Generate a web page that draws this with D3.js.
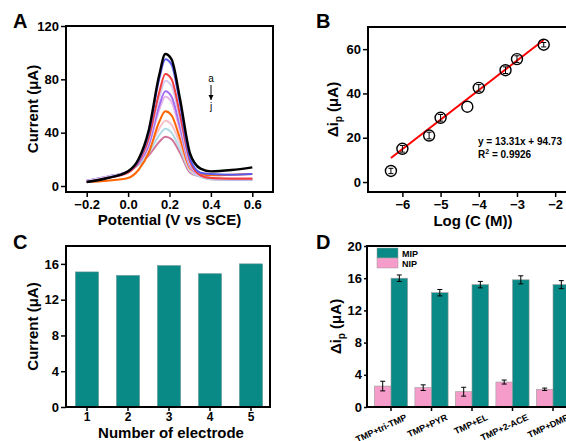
<!DOCTYPE html>
<html>
<head>
<meta charset="utf-8">
<script src="https://cdn.jsdelivr.net/npm/d3@7"></script>
<style>
  html, body { margin: 0; padding: 0; background: #fff; overflow: hidden; }
  svg { display: block; font-family: "Liberation Sans", Arial, sans-serif; }
</style>
</head>
<body>
<div id="vis"></div>
<script>
// ---------- data ----------
// panel A: DPV curves a..j
const potentials = [-0.2, -0.1, 0, 0.05, 0.1, 0.15, 0.18, 0.21, 0.25, 0.3, 0.35, 0.4, 0.5, 0.6];
const curveNames = ["a", "b", "c", "d", "e", "f", "g", "h", "i", "j"];
const curveColors = ["#000000", "#5a5af0", "#f23b3b", "#d3cbf2", "#a56ef2", "#e6b4e8", "#ff6600", "#f7c3cb", "#b0dbe8", "#d2739c"];
const curveA = [3, 6, 11, 20, 42, 83, 99, 95, 66, 24, 13, 11, 12, 14];
const curveB = [3, 6, 11, 19, 40, 80, 95, 91, 62, 20, 10, 9, 8.5, 9];
const curveC = [3, 6, 10, 18, 36, 70, 84, 80, 54, 18, 8, 6, 5.5, 5.5];
const curveD = [4, 7, 11, 18, 34, 66, 79, 75, 50, 16, 8, 6, 5, 5];
const curveE = [4, 7, 11, 17, 31, 60, 71, 67, 45, 15, 8, 6, 5, 5];
const curveF = [4, 7, 11, 17, 30, 57, 67, 63, 42, 14, 8, 6, 5, 5];
const curveG = [3, 4, 6, 12, 25, 48, 56, 53, 36, 13, 9, 8, 8.5, 9];
const curveH = [4, 7, 11, 17, 27, 43, 49, 46, 32, 12, 8, 6, 6, 6];
const curveI = [4, 7, 11, 16, 25, 38, 43, 40, 28, 11, 7, 5, 4.5, 4.5];
const curveJ = [4, 7, 11, 16, 23, 33, 37, 35, 25, 10, 7, 5, 4.5, 4.5];
const curves = [curveA, curveB, curveC, curveD, curveE, curveF, curveG, curveH, curveI, curveJ];

// panel B: calibration
const logConc = [-6.3, -6, -5.3, -5, -4.3, -4, -3.3, -3, -2.3];
const deltaIp = [5, 15, 21, 29, 34, 42.5, 50.5, 55.5, 62];
const deltaIpErr = [1.2, 1.5, 1.5, 1.5, 0, 1.5, 1.5, 1.5, 1];
const fitSlope = 13.31, fitIntercept = 94.73;

// panel C: reproducibility
const electrodes = ["1", "2", "3", "4", "5"];
const electrodeCurrent = [15.1, 14.7, 15.8, 14.9, 16.0];

// panel D: selectivity
const interferents = ["TMP+tri-TMP", "TMP+PYR", "TMP+EL", "TMP+2-ACE", "TMP+DMP"];
const nipValues = [2.6, 2.4, 1.9, 3.1, 2.2];
const nipErr = [0.6, 0.35, 0.55, 0.25, 0.15];
const mipValues = [16.0, 14.2, 15.2, 15.8, 15.2];
const mipErr = [0.4, 0.4, 0.4, 0.5, 0.5];

// ---------- setup ----------
const W = 566, H = 441;
const svg = d3.select("#vis").append("svg").attr("width", W).attr("height", H);

const teal = "#0a8a87", pink = "#f59ccb";
const tickFont = 13, titleFont = 15;

function frame(g, x0, y0, x1, y1) {
  g.append("rect")
    .attr("x", x0).attr("y", y0)
    .attr("width", x1 - x0).attr("height", y1 - y0)
    .attr("fill", "none").attr("stroke", "#000").attr("stroke-width", 2);
}

function styleAxis(g) {
  g.select(".domain").remove();
  g.selectAll(".tick line").attr("stroke", "#000").attr("stroke-width", 1.5);
  g.selectAll(".tick text")
    .attr("fill", "#000")
    .attr("font-size", tickFont)
    .attr("font-weight", "bold");
}

function panelLetter(t, x, y) {
  svg.append("text").attr("x", x).attr("y", y)
    .attr("font-size", 20).attr("font-weight", "bold").text(t);
}

// ========== Panel A ==========
{
  const x0 = 66, x1 = 273, y0 = 26, y1 = 192;
  const x = d3.scaleLinear().domain([-0.3, 0.7]).range([x0, x1]);
  const y = d3.scaleLinear().domain([-4.5, 120]).range([y1, y0]);
  const g = svg.append("g");

  const line = d3.line()
    .x((d, i) => x(potentials[i]))
    .y(d => y(d))
    .curve(d3.curveMonotoneX);

  // draw j first so black "a" sits on top
  curves.map((c, i) => ({ c, i })).reverse().forEach(({ c, i }) => {
    g.append("path")
      .attr("d", line(c))
      .attr("fill", "none")
      .attr("stroke", curveColors[i])
      .attr("stroke-width", i === 0 ? 2.4 : 2);
  });

  g.append("g").attr("transform", `translate(0,${y1})`)
    .call(d3.axisBottom(x).tickValues([-0.2, 0, 0.2, 0.4, 0.6]).tickFormat(d3.format(".1f")).tickSize(5).tickPadding(3))
    .call(styleAxis);
  g.append("g").attr("transform", `translate(${x0},0)`)
    .call(d3.axisLeft(y).tickValues([0, 40, 80, 120]).tickSize(5).tickPadding(2))
    .call(styleAxis);
  frame(g, x0, y0, x1, y1);

  // a -> j marker
  g.append("text").attr("x", 211).attr("y", 82).attr("text-anchor", "middle")
    .attr("font-size", 10).attr("fill", "#000").text(curveNames[0]);
  g.append("line").attr("x1", 211).attr("x2", 211).attr("y1", 85).attr("y2", 100)
    .attr("stroke", "#000").attr("stroke-width", 1);
  g.append("path").attr("d", "M208.5,95 L211,100 L213.5,95 Z").attr("fill", "#000");
  g.append("text").attr("x", 211).attr("y", 110).attr("text-anchor", "middle")
    .attr("font-size", 10).attr("fill", "#000").text(curveNames[9]);

  g.append("text")
    .attr("transform", `translate(38,${(y0 + y1) / 2}) rotate(-90)`)
    .attr("text-anchor", "middle")
    .attr("font-size", titleFont).attr("font-weight", "bold")
    .text("Current (μA)");
  g.append("text").attr("x", (x0 + x1) / 2).attr("y", 225)
    .attr("text-anchor", "middle")
    .attr("font-size", titleFont).attr("font-weight", "bold")
    .text("Potential (V vs SCE)");
  panelLetter("A", 13, 28);
}

// ========== Panel B ==========
{
  const x0 = 368, x1 = 620, y0 = 27, y1 = 192;
  const x = d3.scaleLinear().domain([-6.9, -6.9 + (x1 - x0) / 38.2]).range([x0, x1]);
  const y = d3.scaleLinear().domain([-4.5, 70]).range([y1, y0]);
  const g = svg.append("g");

  const fx = [logConc[0], logConc[logConc.length - 1]];
  g.append("line")
    .attr("x1", x(fx[0])).attr("y1", y(fitSlope * fx[0] + fitIntercept))
    .attr("x2", x(fx[1])).attr("y2", y(fitSlope * fx[1] + fitIntercept))
    .attr("stroke", "#ff0000").attr("stroke-width", 2);

  const pts = logConc.map((v, i) => ({ x: v, y: deltaIp[i], e: deltaIpErr[i] }));
  g.selectAll(".err").data(pts.filter(d => d.e > 0)).join("path")
    .attr("d", d => {
      const cx = x(d.x), t = y(d.y + d.e), b = y(d.y - d.e);
      return `M${cx},${t}V${b}M${cx - 2.5},${t}H${cx + 2.5}M${cx - 2.5},${b}H${cx + 2.5}`;
    })
    .attr("stroke", "#000").attr("stroke-width", 1).attr("fill", "none");
  g.selectAll(".pt").data(pts).join("circle")
    .attr("cx", d => x(d.x)).attr("cy", d => y(d.y)).attr("r", 5.5)
    .attr("fill", "none").attr("stroke", "#000").attr("stroke-width", 1.4);

  g.append("g").attr("transform", `translate(0,${y1})`)
    .call(d3.axisBottom(x).tickValues([-6, -5, -4, -3, -2]).tickFormat(d3.format("d")).tickSize(5).tickPadding(3))
    .call(styleAxis);
  g.append("g").attr("transform", `translate(${x0},0)`)
    .call(d3.axisLeft(y).tickValues([0, 20, 40, 60]).tickSize(5).tickPadding(2))
    .call(styleAxis);
  frame(g, x0, y0, x1, y1);

  g.append("text").attr("x", 478).attr("y", 145)
    .attr("font-size", 10).attr("font-weight", "bold")
    .text(`y = ${fitSlope}x + ${fitIntercept}`);
  const r2 = g.append("text").attr("x", 478).attr("y", 158)
    .attr("font-size", 10).attr("font-weight", "bold");
  r2.append("tspan").text("R");
  r2.append("tspan").attr("dy", -4).attr("font-size", 7).text("2");
  r2.append("tspan").attr("dy", 4).text(" = 0.9926");

  const yt = g.append("text")
    .attr("transform", `translate(338,${(y0 + y1) / 2}) rotate(-90)`)
    .attr("text-anchor", "middle")
    .attr("font-size", titleFont).attr("font-weight", "bold");
  yt.append("tspan").text("Δi");
  yt.append("tspan").attr("dy", 4).attr("font-size", 10).text("p");
  yt.append("tspan").attr("dy", -4).text(" (μA)");
  g.append("text").attr("x", 473).attr("y", 226)
    .attr("text-anchor", "middle")
    .attr("font-size", titleFont).attr("font-weight", "bold")
    .text("Log (C (M))");
  panelLetter("B", 316, 28);
}

// ========== Panel C ==========
{
  const x0 = 66, x1 = 270, y0 = 246, y1 = 407;
  const x = d3.scaleBand().domain(electrodes).range([66.5, 271.5]).paddingInner(0.44).paddingOuter(0.22);
  const y = d3.scaleLinear().domain([0, 18]).range([y1, y0]);
  const g = svg.append("g");

  g.selectAll(".bar").data(electrodeCurrent).join("rect")
    .attr("x", (d, i) => x(electrodes[i]))
    .attr("width", x.bandwidth())
    .attr("y", d => y(d))
    .attr("height", d => y1 - y(d))
    .attr("fill", teal).attr("stroke", "#5a8f8d").attr("stroke-width", 0.6);

  const xa = g.append("g").attr("transform", `translate(0,${y1})`)
    .call(d3.axisBottom(x).tickSize(4).tickPadding(1))
    .call(styleAxis);
  xa.selectAll(".tick text").attr("font-size", 12);
  g.append("g").attr("transform", `translate(${x0},0)`)
    .call(d3.axisLeft(y).tickValues([0, 4, 8, 12, 16]).tickSize(5).tickPadding(2))
    .call(styleAxis);
  frame(g, x0, y0, x1, y1);

  g.append("text")
    .attr("transform", `translate(38,${(y0 + y1) / 2}) rotate(-90)`)
    .attr("text-anchor", "middle")
    .attr("font-size", titleFont).attr("font-weight", "bold")
    .text("Current (μA)");
  g.append("text").attr("x", 171).attr("y", 438)
    .attr("text-anchor", "middle")
    .attr("font-size", titleFont).attr("font-weight", "bold")
    .text("Number of electrode");
  panelLetter("C", 13, 249);
}

// ========== Panel D ==========
{
  const x0 = 367, x1 = 620, y0 = 246, y1 = 407;
  const x = d3.scaleBand().domain(interferents).range([370.75, 573.25]).paddingInner(0.18).paddingOuter(0.09);
  const sub = d3.scaleBand().domain(["NIP", "MIP"]).range([0, x.bandwidth()]);
  const y = d3.scaleLinear().domain([0, 20]).range([y1, y0]);
  const g = svg.append("g");

  const rows = interferents.flatMap((c, i) => [
    { c, k: "NIP", v: nipValues[i], e: nipErr[i], fill: pink },
    { c, k: "MIP", v: mipValues[i], e: mipErr[i], fill: teal }
  ]);

  g.selectAll(".bar").data(rows).join("rect")
    .attr("x", d => x(d.c) + sub(d.k))
    .attr("width", sub.bandwidth())
    .attr("y", d => y(d.v))
    .attr("height", d => y1 - y(d.v))
    .attr("fill", d => d.fill).attr("stroke", "#9a9a9a").attr("stroke-width", 0.6);

  g.selectAll(".err").data(rows).join("path")
    .attr("d", d => {
      const cx = x(d.c) + sub(d.k) + sub.bandwidth() / 2, t = y(d.v + d.e), b = y(d.v - d.e);
      return `M${cx},${t}V${b}M${cx - 2.5},${t}H${cx + 2.5}M${cx - 2.5},${b}H${cx + 2.5}`;
    })
    .attr("stroke", "#000").attr("stroke-width", 1).attr("fill", "none");

  const xa = g.append("g").attr("transform", `translate(0,${y1})`)
    .call(d3.axisBottom(x).tickSize(4).tickPadding(2))
    .call(styleAxis);
  xa.selectAll(".tick text")
    .attr("font-size", 9)
    .attr("text-anchor", "end")
    .attr("dy", 0)
    .attr("transform", "translate(14,7) rotate(-25)");

  g.append("g").attr("transform", `translate(${x0},0)`)
    .call(d3.axisLeft(y).tickValues([0, 4, 8, 12, 16, 20]).tickSize(3).tickPadding(2))
    .call(styleAxis);
  frame(g, x0, y0, x1, y1);

  // legend
  [["MIP", teal], ["NIP", pink]].forEach(([k, c], i) => {
    g.append("rect").attr("x", 377).attr("y", 248 + i * 10)
      .attr("width", 21).attr("height", 10)
      .attr("fill", c).attr("stroke", "#9a9a9a").attr("stroke-width", 0.5);
    g.append("text").attr("x", 402).attr("y", 256.5 + i * 10)
      .attr("font-size", 9).attr("font-weight", "bold").text(k);
  });

  const yt = g.append("text")
    .attr("transform", `translate(341,${(y0 + y1) / 2}) rotate(-90)`)
    .attr("text-anchor", "middle")
    .attr("font-size", titleFont).attr("font-weight", "bold");
  yt.append("tspan").text("Δi");
  yt.append("tspan").attr("dy", 4).attr("font-size", 10).text("p");
  yt.append("tspan").attr("dy", -4).text(" (μA)");
  panelLetter("D", 316, 249);
}
</script>
</body>
</html>
